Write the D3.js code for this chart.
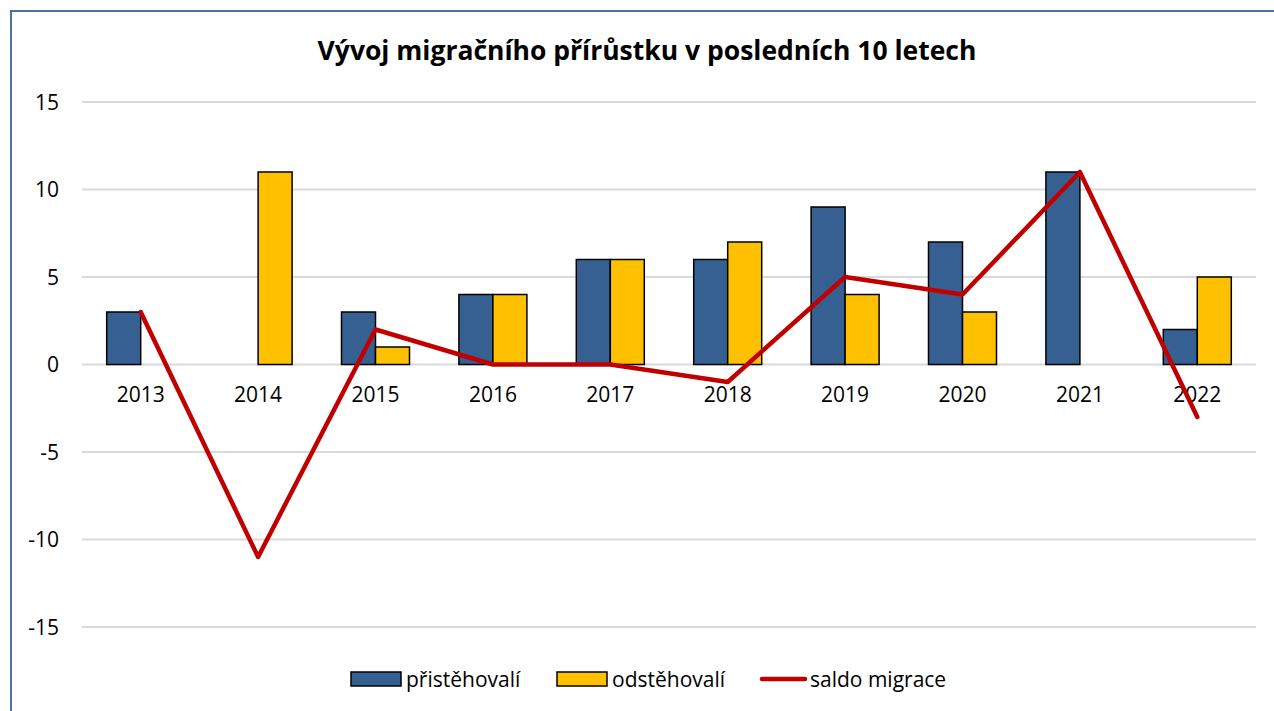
<!DOCTYPE html>
<html><head><meta charset="utf-8">
<script src="https://cdn.jsdelivr.net/npm/d3@7"></script>
<style>body{margin:0;background:#fff;} svg{display:block;}</style>
</head><body>
<svg id="c" width="1274" height="711"></svg>
<script>
const years = ["2013","2014","2015","2016","2017","2018","2019","2020","2021","2022"];
const prist = [3,0,3,4,6,6,9,7,11,2];
const odst = [0,11,1,4,6,7,4,3,0,5];
const saldo = [3,-11,2,0,0,-1,5,4,11,-3];
const yTicks = [-15,-10,-5,0,5,10,15];
const seriesNames = ["přistěhovalí","odstěhovalí","saldo migrace"];
const title = "Vývoj migračního přírůstku v posledních 10 letech";

const svg = d3.select("#c");
const font = "'Open Sans', 'Noto Sans', sans-serif";

// outer border (left & top)
svg.append("path").attr("d","M11,711 L11,11 L1274,11").attr("fill","none")
  .attr("stroke","#4a6fa5").attr("stroke-width",2);

const x = d3.scaleBand().domain(years).range([82,1256]);
const y = d3.scaleLinear().domain([-15,15]).range([627,102]);

// gridlines
svg.append("g").selectAll("line").data(yTicks).join("line")
  .attr("x1",82).attr("x2",1256).attr("y1",d=>y(d)).attr("y2",d=>y(d))
  .attr("stroke","#d9d9d9").attr("stroke-width",2);

// y axis labels
const yAxis = d3.axisLeft(y).tickValues(yTicks).tickSize(0).tickPadding(0).tickFormat(d=>String(d));
const yg = svg.append("g").attr("transform","translate(59,0)").call(yAxis);
yg.select(".domain").remove();
yg.selectAll("text").attr("font-family",font).attr("font-size",21).attr("fill","#000").attr("dy","0.35em");

// bars
const bw = 34;
const bars = svg.append("g");
bars.selectAll("rect.p").data(years).join("rect")
  .attr("x",d=>x(d)+x.bandwidth()/2-bw).attr("width",bw)
  .attr("y",(d,i)=>y(Math.max(0,prist[i]))).attr("height",(d,i)=>Math.abs(y(prist[i])-y(0)))
  .attr("fill","#366092").attr("stroke","#000").attr("stroke-width",1.5)
  .style("display",(d,i)=>prist[i]===0?"none":null);
bars.selectAll("rect.o").data(years).join("rect")
  .attr("x",d=>x(d)+x.bandwidth()/2).attr("width",bw)
  .attr("y",(d,i)=>y(Math.max(0,odst[i]))).attr("height",(d,i)=>Math.abs(y(odst[i])-y(0)))
  .attr("fill","#ffc000").attr("stroke","#000").attr("stroke-width",1.5)
  .style("display",(d,i)=>odst[i]===0?"none":null);

// x axis labels
const xAxis = d3.axisBottom(x).tickSize(0).tickPadding(0);
const xg = svg.append("g").attr("transform","translate(0,395)").call(xAxis);
xg.select(".domain").remove();
xg.selectAll("text").attr("font-family",font).attr("font-size",21).attr("fill","#000").attr("dy","0.35em");

// line
const line = d3.line().x((d,i)=>x(years[i])+x.bandwidth()/2).y(d=>y(d));
svg.append("path").datum(saldo).attr("d",line).attr("fill","none")
  .attr("stroke","#c00000").attr("stroke-width",4.5).attr("stroke-linejoin","round").attr("stroke-linecap","round");

// title
svg.append("text").attr("x",647).attr("y",60).attr("text-anchor","middle")
  .attr("font-family",font).attr("font-weight","bold").attr("font-size",26.5).attr("fill","#000").text(title);

// legend
const lg = svg.append("g").attr("font-family",font).attr("font-size",21);
lg.append("rect").attr("x",351).attr("y",672).attr("width",50).attr("height",14).attr("fill","#366092").attr("stroke","#000").attr("stroke-width",1.5);
lg.append("text").attr("x",406).attr("y",687).text(seriesNames[0]);
lg.append("rect").attr("x",557).attr("y",672).attr("width",50).attr("height",14).attr("fill","#ffc000").attr("stroke","#000").attr("stroke-width",1.5);
lg.append("text").attr("x",612).attr("y",687).text(seriesNames[1]);
lg.append("line").attr("x1",762).attr("x2",805).attr("y1",679).attr("y2",679).attr("stroke","#c00000").attr("stroke-width",4.5).attr("stroke-linecap","round");
lg.append("text").attr("x",810).attr("y",687).text(seriesNames[2]);
</script>
</body></html>
